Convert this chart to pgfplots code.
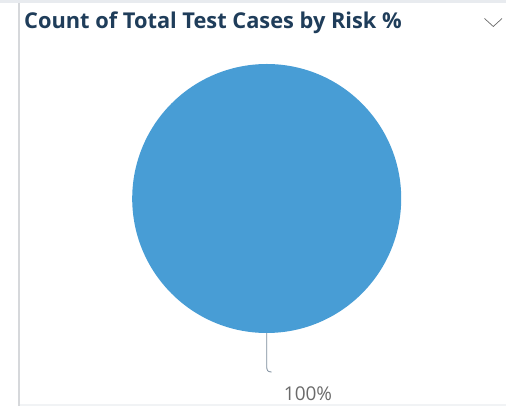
\documentclass[border=0pt]{standalone}
\usepackage{fontspec}
\setmainfont{Open Sans}
\usepackage{pgfplots}
\usepackage{pgfplotstable}
\pgfplotsset{compat=1.18}

\definecolor{panelgray}{HTML}{E8EBEF}
\definecolor{edgegray}{HTML}{D6D8DB}
\definecolor{titleblue}{HTML}{1F3D5A}
\definecolor{sliceblue}{HTML}{489DD5}
\definecolor{leadergray}{HTML}{7A8A9A}
\definecolor{labelgray}{HTML}{6A6A6A}

% pie slice mark: sector from 12 o'clock, clockwise, \share percent of the disc
\pgfdeclareplotmark{slice}{%
  \pgfpathmoveto{\pgfpointorigin}%
  \pgfpathlineto{\pgfpointpolar{90}{\pgfplotmarksize}}%
  \pgfpatharc{90}{90-3.6*\share}{\pgfplotmarksize}%
  \pgfpathclose
  \pgfusepathqfill}

% one slice: share of the whole, in percent
\pgfplotstableread{
risk share
all  100
}\riskdata

\begin{document}
\begin{tikzpicture}
  \path[use as bounding box] (0pt,0pt) rectangle (506pt,406pt);
  % panel frame
  \fill[panelgray] (0pt,403pt) rectangle (506pt,406pt);
  \fill[edgegray] (18pt,0pt) rectangle (19.8pt,403pt);
  \fill[panelgray!60] (20pt,0pt) rectangle (506pt,2pt);
  % title and menu chevron
  \node[anchor=base west,inner sep=0pt,text=titleblue,
        font=\fontsize{21.8}{25}\selectfont\bfseries]
    at (24pt,377pt) {Count of Total Test Cases by Risk \%};
  \draw[labelgray,line width=0.7pt] (484.5pt,387.5pt) -- (493.3pt,379.5pt) -- (502pt,387.5pt);

  \begin{axis}[
    at={(266.7pt,207.5pt)}, anchor=center,
    width=269pt, height=269pt, scale only axis,
    xmin=-1, xmax=1, ymin=-1, ymax=1,
    hide axis, clip=false,
    ]
    \addplot[
      only marks, mark=slice, mark size=134.5pt,
      mark options={fill=sliceblue, draw=none},
      visualization depends on={\thisrow{share} \as \share},
    ] table[x expr=0, y expr=0] {\riskdata};
    % leader line
    \draw[leadergray,line width=0.8pt]
      (axis cs:0,-1) -- (axis cs:0,-1.25)
      .. controls (axis cs:0,-1.28) and (axis cs:0.01,-1.29) .. (axis cs:0.037,-1.29);
  \end{axis}
  \node[anchor=base,inner sep=0pt,text=labelgray,
        font=\fontsize{19}{22}\selectfont] at (308pt,5pt) {100\%};
\end{tikzpicture}
\end{document}
